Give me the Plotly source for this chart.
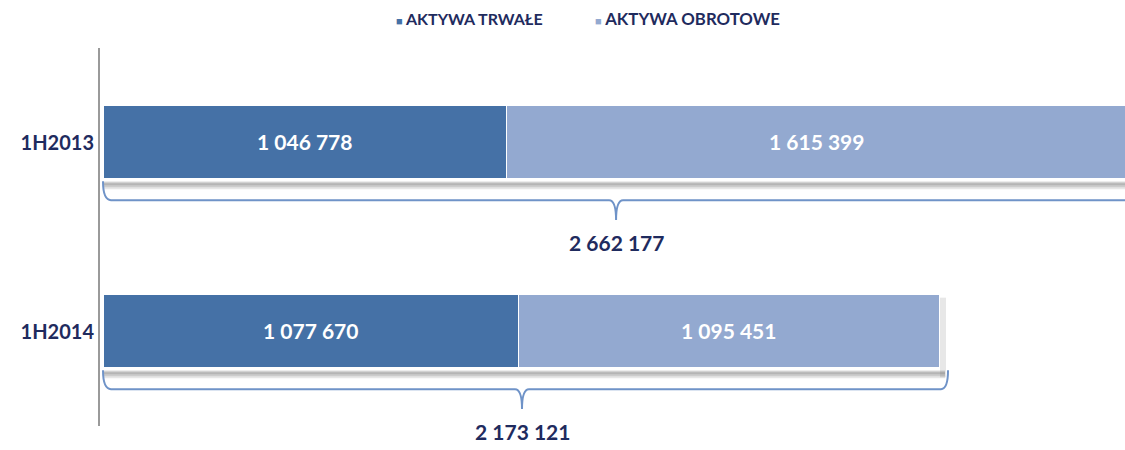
import plotly.graph_objects as go

# ---- data ----
categories = ["1H2013", "1H2014"]
aktywa_trwale = [1046778, 1077670]
aktywa_obrotowe = [1615399, 1095451]
series_names = ["AKTYWA TRWAŁE", "AKTYWA OBROTOWE"]

totals = [a + b for a, b in zip(aktywa_trwale, aktywa_obrotowe)]


def fmt(v):
    return f"{v:,}".replace(",", " ")


ypos = list(range(len(categories)))

DARK = "#4571a6"
LIGHT = "#93a9d0"
NAVY = "#1f2b5e"
FONT = "Lato, sans-serif"
colors = [DARK, LIGHT]

W, H = 1125, 450
ML, MR, MT, MB = 100, 0, 48, 24
PW = W - ML - MR
PH = H - MT - MB

fig = go.Figure()
for vals, name, col in zip([aktywa_trwale, aktywa_obrotowe], series_names, colors):
    fig.add_trace(go.Bar(
        y=ypos, x=vals, orientation="h", name=name, showlegend=False,
        marker=dict(color=col, line=dict(color="white", width=1.5)),
        text=[fmt(v) for v in vals], textposition="inside",
        insidetextanchor="middle", constraintext="none", textangle=0,
        textfont=dict(color="white", size=21, family=FONT, weight="bold"),
        width=0.39,
    ))

shapes = []
annotations = []
PX_X = 2600.0      # data units per pixel on x
PX_Y = 1 / 189.0   # category units per pixel on y
for c, tot in zip(ypos, totals):
    bot = c + 0.195
    # shadow under bar (gradient approximation)
    for op, h0, h1 in [(0.12, 2, 10), (0.16, 3, 8), (0.16, 4, 6)]:
        shapes.append(dict(type="rect", xref="x", yref="y", layer="below",
                           x0=0, x1=tot + 5 * PX_X,
                           y0=bot + h0 * PX_Y, y1=bot + h1 * PX_Y,
                           fillcolor=f"rgba(60,60,60,{op})", line=dict(width=0)))
    shapes.append(dict(type="rect", xref="x", yref="y", layer="below",
                       x0=tot, x1=tot + 6 * PX_X,
                       y0=c - 0.195 + 3 * PX_Y, y1=bot + 9 * PX_Y,
                       fillcolor="rgba(60,60,60,0.12)", line=dict(width=0)))
    # brace
    yb = bot + 2 * PX_Y
    yh = c + 0.305
    yt = c + 0.41
    d = 7 * PX_X
    mid = tot / 2
    xr = tot + 8 * PX_X
    path = (f"M {-1*PX_X},{yb} Q {-1*PX_X},{yh} {d},{yh} "
            f"L {mid - d},{yh} Q {mid},{yh} {mid},{yt} "
            f"Q {mid},{yh} {mid + d},{yh} "
            f"L {xr - d},{yh} Q {xr},{yh} {xr},{yb}")
    shapes.append(dict(type="path", xref="x", yref="y", path=path,
                       line=dict(color="#6f93c8", width=2)))
    annotations.append(dict(x=mid, y=yt, xref="x", yref="y", yshift=-23,
                            text=fmt(tot), showarrow=False,
                            font=dict(size=21, color=NAVY, family=FONT, weight="bold"),
                            xanchor="center", yanchor="middle"))

# legend drawn as annotations (small square + caps label)
legend_px = [394, 593]
legend_sizes = [16, 16.8]
for name, col, px, fs in zip(series_names, colors, legend_px, legend_sizes):
    annotations.append(dict(
        x=(px - ML) / PW, y=1 + 30 / PH, xref="paper", yref="paper",
        xanchor="left", yanchor="middle", showarrow=False,
        text=f"<span style='color:{col};font-size:11px'>■</span> {name}",
        font=dict(size=fs, color=NAVY, family=FONT, weight="bold"),
    ))

fig.update_layout(
    width=W, height=H,
    barmode="stack",
    bargap=0,
    showlegend=False,
    plot_bgcolor="white", paper_bgcolor="white",
    margin=dict(l=ML, r=MR, t=MT, b=MB, autoexpand=False),
    xaxis=dict(range=[-10400, 2654000], visible=False, showgrid=False, zeroline=False),
    yaxis=dict(range=[1.5, -0.5], tickvals=ypos, ticktext=categories,
               showline=True, linecolor="#9a9a9a", linewidth=2, ticks="",
               showgrid=False, zeroline=False, automargin=False,
               tickfont=dict(size=20, color=NAVY, family=FONT, weight="bold")),
    shapes=shapes,
    annotations=annotations,
    font=dict(family=FONT),
)

fig.write_html(
    "out.html",
    config={"displayModeBar": False},
    post_script="document.body.style.margin='0';document.body.style.overflow='hidden';",
)
